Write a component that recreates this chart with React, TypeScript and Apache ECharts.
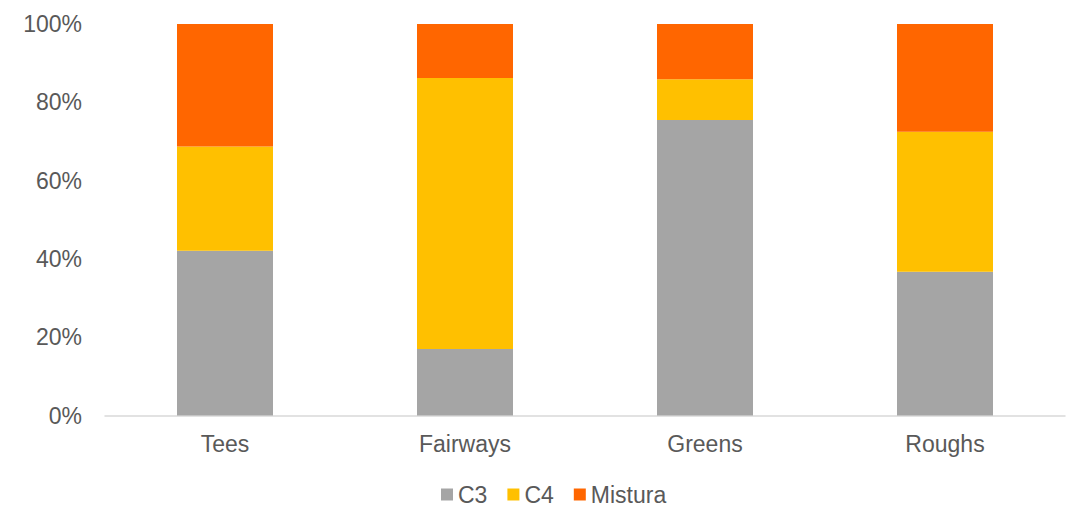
import React, { useEffect, useRef } from "react";
import * as echarts from "echarts";

const categories = ["Tees", "Fairways", "Greens", "Roughs"];
const c3 = [42.1, 17.0, 75.5, 36.7];
const c4 = [26.6, 69.2, 10.4, 35.8];
const mistura = [31.3, 13.8, 14.1, 27.5];
const yTicks = [0, 20, 40, 60, 80, 100];

const FONT = "'Liberation Sans', Arial, sans-serif";

export default function App() {
  const ref = useRef<HTMLDivElement>(null);
  useEffect(() => {
    if (!ref.current) return;
    const chart = echarts.init(ref.current, undefined, { renderer: "svg" });
    const bar = (name: string, data: number[], color: string) => ({
      name,
      type: "bar",
      stack: "total",
      data,
      barWidth: "40%",
      itemStyle: { color },
    });
    chart.setOption({
      animation: false,
      textStyle: { fontFamily: FONT },
      grid: { left: 105, right: 6, top: 24, bottom: 93.5, containLabel: false },
      xAxis: {
        type: "category",
        data: categories,
        axisLine: { show: true, lineStyle: { color: "#D9D9D9", width: 1.5 } },
        axisTick: { show: false },
        axisLabel: { color: "#595959", fontSize: 23, margin: 17, fontFamily: FONT },
      },
      yAxis: {
        type: "value",
        min: yTicks[0],
        max: yTicks[yTicks.length - 1],
        interval: 20,
        axisLine: { show: false },
        axisTick: { show: false },
        splitLine: { show: false },
        axisLabel: {
          color: "#595959",
          fontSize: 23,
          margin: 23,
          fontFamily: FONT,
          formatter: (v: number) => `${v}%`,
        },
      },
      legend: {
        top: 478,
        left: 436,
        itemWidth: 12,
        itemHeight: 12,
        itemGap: 20,
        icon: "rect",
        textStyle: { color: "#595959", fontSize: 23, fontFamily: FONT },
        data: ["C3", "C4", "Mistura"],
      },
      series: [
        bar("C3", c3, "#A5A5A5"),
        bar("C4", c4, "#FFC000"),
        bar("Mistura", mistura, "#FF6600"),
      ],
    });
    return () => chart.dispose();
  }, []);
  return <div ref={ref} style={{ width: 1071, height: 509, position: "absolute", left: 0, top: 0 }} />;
}
